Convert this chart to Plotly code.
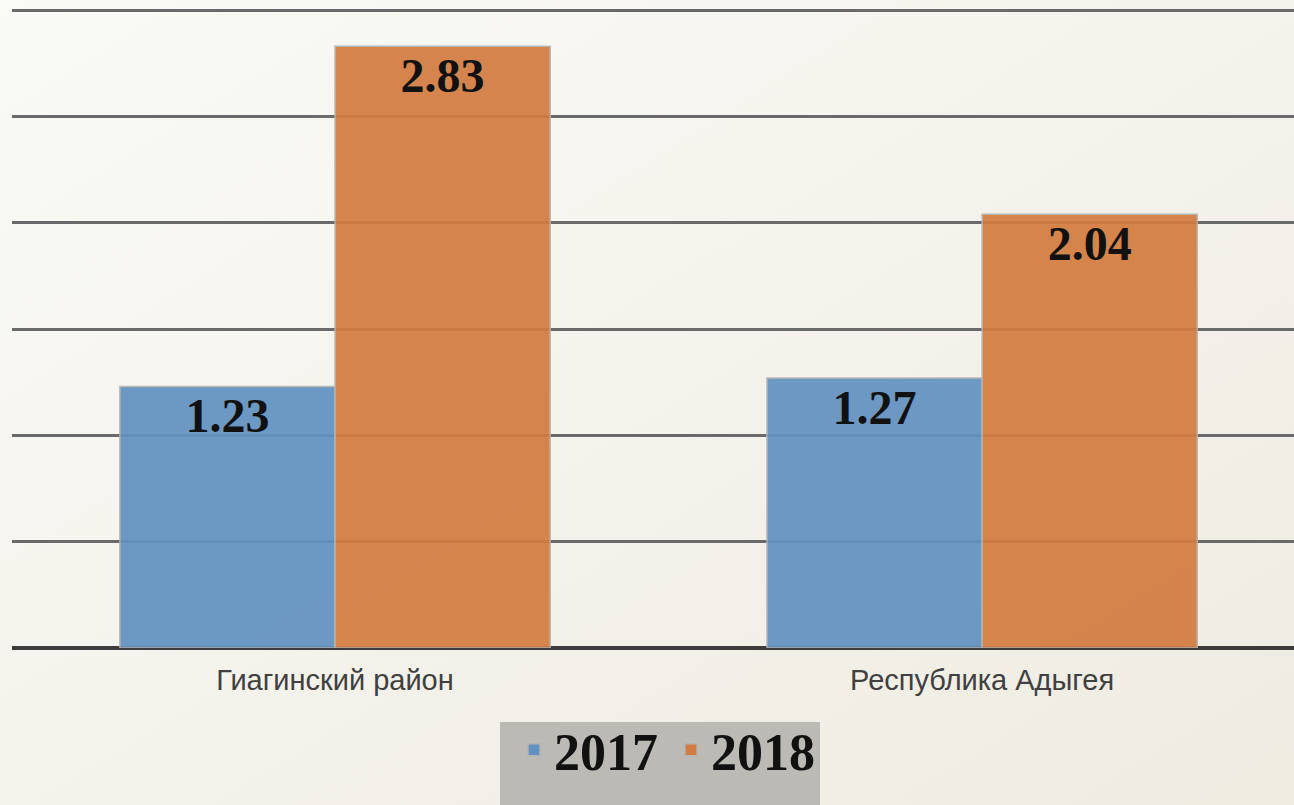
import plotly.graph_objects as go
import urllib.parse

categories = ["Гиагинский район", "Республика Адыгея"]
series_names = ["2017", "2018"]
values_2017 = [1.23, 1.27]
values_2018 = [2.83, 2.04]
colors = ["#6292c1", "#d37c41"]

W, H = 1294, 805
L, R, T, B = 12, 0, 0, 157

fig = go.Figure()
for name, vals, col in zip(series_names, [values_2017, values_2018], colors):
    fig.add_trace(go.Bar(
        x=list(range(len(categories))), y=vals, name=name,
        marker=dict(color=col, opacity=0.93, line=dict(color="#b5b3ad", width=1.5)),
        text=[f"{v:.2f}" for v in vals], textposition="inside",
        insidetextanchor="end", textangle=0,
        textfont=dict(family="Liberation Serif", size=48, color="#111111", weight="bold"),
        cliponaxis=False,
    ))

svg = ('<svg xmlns="http://www.w3.org/2000/svg" width="1294" height="805">'
       '<defs><linearGradient id="g" x1="0" y1="0" x2="1" y2="1">'
       '<stop offset="0" stop-color="#fafaf6"/><stop offset="1" stop-color="#eeebe1"/>'
       '</linearGradient></defs><rect width="1294" height="805" fill="url(#g)"/></svg>')
src = "data:image/svg+xml;charset=utf-8," + urllib.parse.quote(svg)

pw = W - L - R
ph = H - T - B
def px(x):
    return (x - L) / pw
def py(y):
    return (H - B - y) / ph

fig.update_layout(
    width=W, height=H,
    margin=dict(l=L, r=R, t=T, b=B, pad=0),
    paper_bgcolor="#f4f2ec", plot_bgcolor="rgba(0,0,0,0)",
    barmode="group", bargap=0.335, bargroupgap=0,
    showlegend=True,
    legend=dict(orientation="h", x=px(514), xanchor="left", y=py(750), yanchor="middle",
                bgcolor="rgba(0,0,0,0)",
                font=dict(family="Liberation Serif", size=52, color="#111111", weight="bold"),
                itemwidth=30, traceorder="normal",
                entrywidth=112, entrywidthmode="pixels"),
    images=[dict(source=src, xref="paper", yref="paper", x=px(0), y=py(0),
                 sizex=W / pw, sizey=H / ph, xanchor="left", yanchor="top",
                 sizing="stretch", layer="below")],
    shapes=[dict(type="rect", xref="paper", yref="paper", x0=px(500), x1=px(820),
                 y0=py(722), y1=py(806), fillcolor="#bcbab4", line=dict(width=0),
                 layer="below")],
    font=dict(family="Liberation Sans"),
)
fig.update_xaxes(
    tickvals=list(range(len(categories))), ticktext=categories,
    range=[-0.4992, 1.482], showgrid=False, zeroline=False,
    ticks="outside", ticklen=6, tickcolor="rgba(0,0,0,0)",
    tickfont=dict(family="Liberation Sans", size=29, color="#404040"),
    showline=False,
)
fig.update_yaxes(
    range=[0, 648 / (638 / 3.0)], dtick=0.5, tick0=0,
    showgrid=True, gridcolor="#6a6a6a", gridwidth=2.5,
    zeroline=True, zerolinecolor="#3c3c3c", zerolinewidth=3.5,
    showticklabels=False, ticks="",
)
fig.write_html("out.html", config={"displayModeBar": False},
               post_script="document.body.style.margin='0';document.body.style.padding='0';")
